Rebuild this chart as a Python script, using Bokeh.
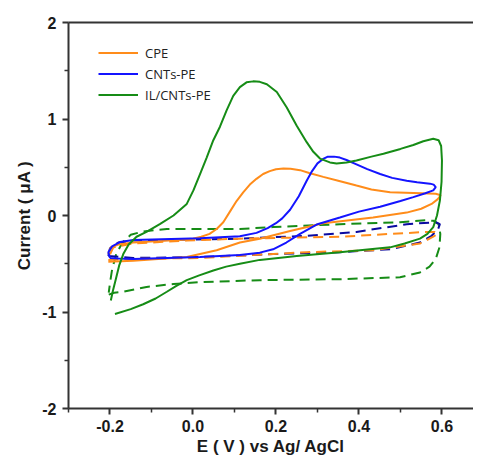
from bokeh.plotting import figure
from bokeh.models import (Range1d, FixedTicker, LinearAxis, Legend, LegendItem,
                          CustomJSTickFormatter)
from bokeh.embed import file_html
from bokeh.resources import INLINE

# ---- data (E in V vs Ag/AgCl, current in uA) ----
cpe_E = [-0.204, -0.144, -0.015, 0.057, 0.113, 0.161, 0.234, 0.314, 0.434, 0.515, 0.55, 0.575,
         0.59, 0.597, 0.585, 0.55, 0.475, 0.43, 0.394, 0.35, 0.314, 0.28, 0.258, 0.235, 0.218,
         0.2, 0.185, 0.169, 0.153, 0.137, 0.121, 0.105, 0.089, 0.073, 0.057, 0.04, 0.02, 0.0,
         -0.015, -0.144, -0.18, -0.198, -0.204]
cpe_I = [-0.48, -0.47, -0.43, -0.36, -0.28, -0.24, -0.16, -0.08, -0.02, 0.03, 0.07, 0.12,
         0.17, 0.21, 0.225, 0.23, 0.24, 0.27, 0.31, 0.36, 0.40, 0.44, 0.47, 0.485, 0.487,
         0.48, 0.46, 0.43, 0.38, 0.32, 0.24, 0.15, 0.04, -0.07, -0.14, -0.19, -0.22, -0.24,
         -0.25, -0.28, -0.30, -0.33, -0.40]

cpe_bg_E = [-0.204, -0.144, 0.017, 0.274, 0.434, 0.547, 0.579, 0.59, 0.583, 0.563, 0.354, 0.113,
            -0.015, -0.144, -0.192, -0.204]
cpe_bg_I = [-0.46, -0.45, -0.44, -0.38, -0.36, -0.29, -0.22, -0.19, -0.17, -0.17, -0.22, -0.24,
            -0.26, -0.29, -0.33, -0.44]

cnt_E = [-0.2, -0.18, -0.144, 0.017, 0.113, 0.161, 0.193, 0.225, 0.258, 0.3, 0.354, 0.4, 0.451,
         0.5, 0.531, 0.56, 0.579, 0.585, 0.58, 0.571, 0.54, 0.515, 0.48, 0.451, 0.42, 0.394,
         0.37, 0.354, 0.34, 0.325, 0.315, 0.3, 0.287, 0.274, 0.255, 0.234, 0.215, 0.2, 0.18,
         0.153, 0.113, 0.017, -0.144, -0.176, -0.195, -0.204, -0.2]
cnt_I = [-0.44, -0.445, -0.45, -0.43, -0.41, -0.385, -0.35, -0.28, -0.19, -0.09, -0.02, 0.04,
         0.09, 0.15, 0.19, 0.23, 0.26, 0.295, 0.32, 0.33, 0.345, 0.36, 0.39, 0.43, 0.48, 0.53,
         0.575, 0.60, 0.61, 0.61, 0.59, 0.54, 0.46, 0.36, 0.20, 0.06, -0.03, -0.08, -0.13,
         -0.18, -0.215, -0.235, -0.255, -0.275, -0.32, -0.38, -0.44]

cnt_bg_E = [-0.204, -0.144, 0.017, 0.193, 0.354, 0.475, 0.547, 0.575, 0.59, 0.595, 0.585, 0.515,
            0.394, 0.274, 0.113, -0.144, -0.18, -0.2, -0.204]
cnt_bg_I = [-0.42, -0.44, -0.43, -0.40, -0.38, -0.35, -0.28, -0.21, -0.15, -0.09, -0.07, -0.09,
            -0.17, -0.21, -0.24, -0.26, -0.28, -0.34, -0.42]

il_E = [-0.188, -0.15, -0.12, -0.09, -0.063, -0.04, -0.015, 0.015, 0.049, 0.08, 0.113, 0.161,
        0.25, 0.354, 0.475, 0.51, 0.547, 0.565, 0.579, 0.588, 0.595, 0.599, 0.6, 0.598, 0.592,
        0.579, 0.555, 0.531, 0.5, 0.459, 0.43, 0.394, 0.37, 0.346, 0.33, 0.306, 0.29, 0.274,
        0.25, 0.226, 0.202, 0.178, 0.161, 0.145, 0.129, 0.113, 0.097, 0.081, 0.065, 0.049,
        0.033, 0.017, 0.001, -0.015, -0.047, -0.08, -0.112, -0.136, -0.155, -0.168, -0.178,
        -0.186, -0.193, -0.198]
il_I = [-1.02, -0.97, -0.92, -0.86, -0.79, -0.73, -0.67, -0.62, -0.57, -0.53, -0.50, -0.46,
        -0.42, -0.38, -0.33, -0.29, -0.24, -0.19, -0.12, 0.0, 0.155, 0.35, 0.57, 0.72, 0.78,
        0.795, 0.77, 0.73, 0.69, 0.64, 0.61, 0.57, 0.55, 0.54, 0.55, 0.59, 0.66, 0.76,
        0.93, 1.12, 1.28, 1.36, 1.385, 1.39, 1.38, 1.33, 1.24, 1.09, 0.92, 0.78,
        0.60, 0.43, 0.26, 0.12, 0.0, -0.09, -0.17, -0.22, -0.30, -0.40, -0.52,
        -0.66, -0.78, -0.88]

il_bg_E = [-0.203, -0.19, -0.168, -0.112, -0.047, 0.017, 0.161, 0.354, 0.499, 0.547, 0.57, 0.585,
           0.594, 0.596, 0.592, 0.58, 0.56, 0.499, 0.354, 0.193, 0.113, -0.063, -0.12, -0.15,
           -0.17, -0.185, -0.195, -0.2, -0.203]
il_bg_I = [-0.82, -0.80, -0.79, -0.74, -0.71, -0.69, -0.67, -0.66, -0.64, -0.59, -0.53, -0.45,
           -0.33, -0.19, -0.09, -0.055, -0.05, -0.07, -0.09, -0.12, -0.14, -0.14, -0.165, -0.2,
           -0.28, -0.40, -0.56, -0.70, -0.80]

series_names = ["CPE", "CNTs-PE", "IL/CNTs-PE"]
x_ticks = [-0.2, 0.0, 0.2, 0.4, 0.6]
x_minor = [-0.3, -0.1, 0.1, 0.3, 0.5, 0.7]
y_ticks = [-2, -1, 0, 1, 2]
y_minor = [-1.5, -0.5, 0.5, 1.5]

ORANGE = "#FF8C1A"
BLUE = "#1414FF"
NAVY = "#0A0AA0"
GREEN = "#168C16"
AX = "#333333"

p = figure(width=473, height=458, output_backend="svg", toolbar_location=None,
           x_range=Range1d(-0.3, 0.676), y_range=Range1d(-2, 2),
           min_border_left=68, min_border_right=0, min_border_top=22, min_border_bottom=50,
           x_axis_type=None, y_axis_type=None)
p.outline_line_color = None
p.grid.visible = False
p.background_fill_color = "white"
p.border_fill_color = "white"

xa = LinearAxis(ticker=FixedTicker(ticks=x_ticks, minor_ticks=x_minor),
                axis_label="E ( V ) vs Ag/ AgCl")
xa.formatter = CustomJSTickFormatter(code="return tick.toFixed(1);")
ya = LinearAxis(ticker=FixedTicker(ticks=y_ticks, minor_ticks=y_minor),
                axis_label="Current ( μA )")
ya.formatter = CustomJSTickFormatter(code="return tick.toFixed(0);")
for ax in (xa, ya):
    ax.axis_line_color = AX
    ax.axis_line_width = 2
    ax.major_tick_line_color = AX
    ax.minor_tick_line_color = AX
    ax.major_tick_line_width = 2
    ax.minor_tick_line_width = 1.5
    ax.major_tick_out = 6
    ax.major_tick_in = 0
    ax.minor_tick_out = 4
    ax.minor_tick_in = 0
    ax.major_label_text_font = "Liberation Sans"
    ax.major_label_text_font_style = "bold"
    ax.major_label_text_font_size = "16px"
    ax.major_label_text_color = "#1a1a1a"
    ax.axis_label_text_font = "Liberation Sans"
    ax.axis_label_text_font_style = "bold"
    ax.axis_label_text_font_size = "17px"
    ax.axis_label_text_color = "#1a1a1a"
xa.major_label_standoff = 5
xa.axis_label_standoff = 2
ya.major_label_standoff = 6
ya.axis_label_standoff = 5
p.add_layout(xa, "below")
p.add_layout(ya, "left")

top = LinearAxis(ticker=FixedTicker(ticks=[]))
top.axis_line_color = AX
top.axis_line_width = 2
top.major_tick_out = 0
top.minor_tick_out = 0
top.major_label_text_font_size = "0px"
top.major_label_standoff = 0
p.add_layout(top, "above")

dash = "10 6"
p.line(il_bg_E, il_bg_I, line_color=GREEN, line_width=2, line_dash=dash)
p.line(cnt_bg_E, cnt_bg_I, line_color=NAVY, line_width=2, line_dash=dash)
p.line(cpe_bg_E, cpe_bg_I, line_color=ORANGE, line_width=2, line_dash=dash)
r1 = p.line(cpe_E, cpe_I, line_color=ORANGE, line_width=2)
r2 = p.line(cnt_E, cnt_I, line_color=BLUE, line_width=2)
r3 = p.line(il_E, il_I, line_color=GREEN, line_width=2)

legend = Legend(items=[LegendItem(label=series_names[0], renderers=[r1]),
                       LegendItem(label=series_names[1], renderers=[r2]),
                       LegendItem(label=series_names[2], renderers=[r3])],
                location=(30, 303), margin=0, padding=10, spacing=0,
                glyph_width=40, glyph_height=21, label_height=21, label_standoff=7,
                label_text_font="Open Sans", label_text_font_size="13px",
                label_text_color="#222222",
                border_line_color=None, background_fill_alpha=0)
p.add_layout(legend, "center")

open("out.html", "w").write(file_html(p, INLINE))
